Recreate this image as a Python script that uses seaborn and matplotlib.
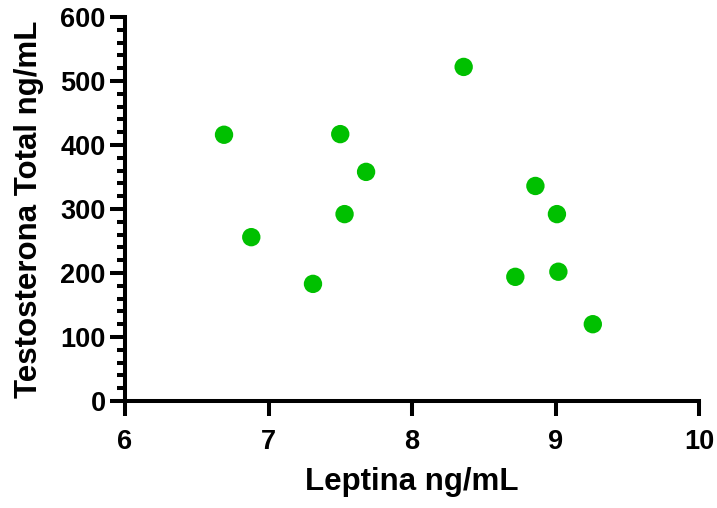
import matplotlib
matplotlib.use("Agg")
import matplotlib.pyplot as plt
import seaborn as sns
import pandas as pd
from matplotlib.ticker import MultipleLocator

leptina = [6.69, 6.88, 7.31, 7.50, 7.53, 7.68, 8.36, 8.72, 8.86, 9.01, 9.02, 9.26]
testosterona = [416, 256, 183, 417, 292, 358, 522, 194, 336, 292, 202, 120]

df = pd.DataFrame({"Leptina ng/mL": leptina, "Testosterona Total ng/mL": testosterona})

sns.set_theme(style="ticks")
plt.rcParams['font.family'] = ['Liberation Sans', 'DejaVu Sans']
plt.rcParams['font.weight'] = 'bold'

fig = plt.figure(figsize=(7.17, 5.08), dpi=100)
ax = fig.add_axes([125/717, (508-401)/508, (699-125)/717, (401-17)/508])

sns.scatterplot(data=df, x="Leptina ng/mL", y="Testosterona Total ng/mL", ax=ax,
                color="#00C000", s=175, edgecolor="none", linewidth=0, clip_on=False)

ax.set_xlim(6, 10)
ax.set_ylim(0, 600)
ax.set_xticks([6, 7, 8, 9, 10])
ax.set_yticks([0, 100, 200, 300, 400, 500, 600])
ax.yaxis.set_minor_locator(MultipleLocator(20))
sns.despine(ax=ax)
for sp in ["left", "bottom"]:
    ax.spines[sp].set_linewidth(2.9)
    ax.spines[sp].set_color("black")
ax.tick_params(axis="both", which="major", width=2.9, length=11, labelsize=19.5, colors="black")
ax.tick_params(axis="x", which="major", pad=9)
ax.tick_params(axis="y", which="major", pad=3)
ax.tick_params(axis="y", which="minor", width=2.9, length=5.5, colors="black")
for lab in ax.get_xticklabels() + ax.get_yticklabels():
    lab.set_fontweight("bold")
ax.set_xlabel("Leptina ng/mL", fontsize=22.5, fontweight="bold", color="black", labelpad=9)
ax.set_ylabel("Testosterona Total ng/mL", fontsize=22.5, fontweight="bold", color="black", labelpad=12)

fig.savefig("out.png", dpi=100)
